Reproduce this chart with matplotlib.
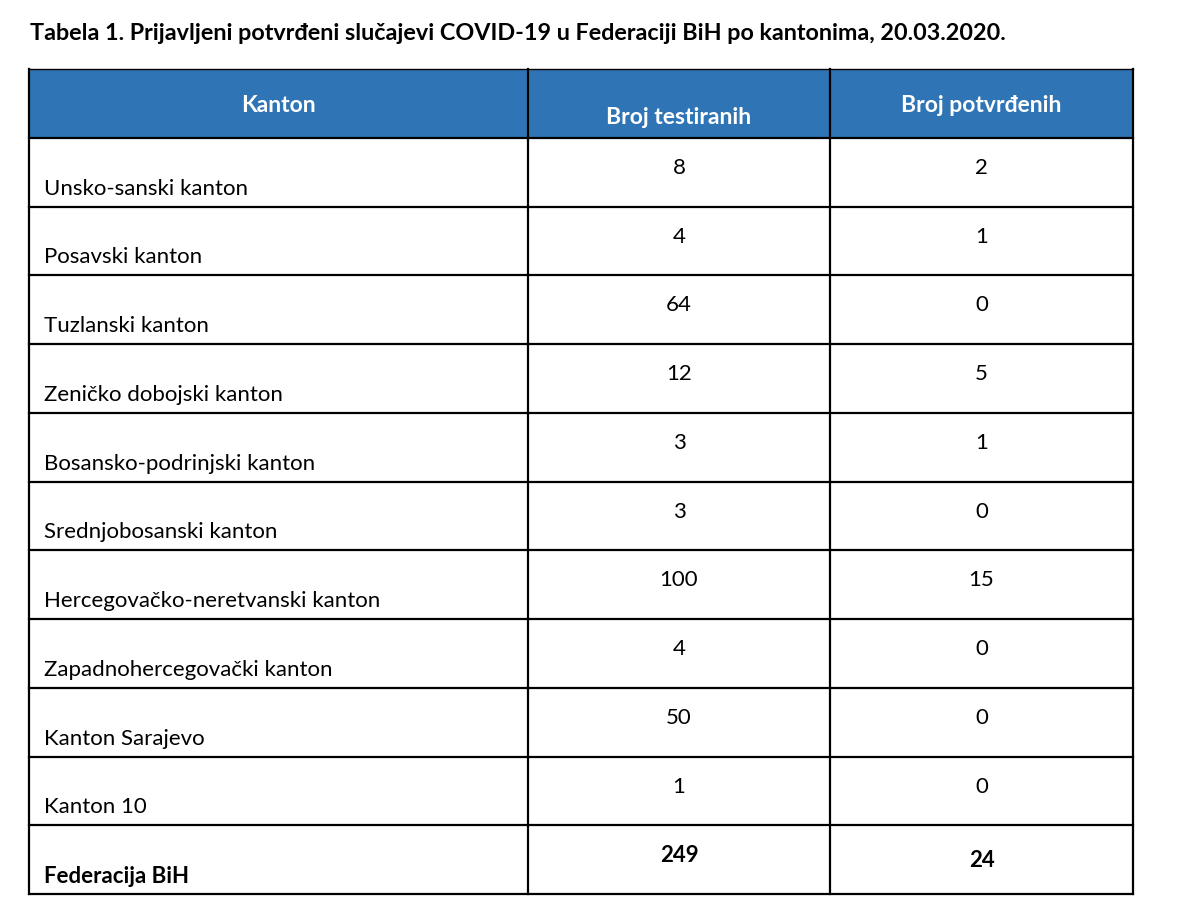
import matplotlib
matplotlib.use("Agg")
import matplotlib.pyplot as plt
from matplotlib.patches import Rectangle

plt.rcParams["font.family"] = ["Lato", "DejaVu Sans"]

title = "Tabela 1. Prijavljeni potvrđeni slučajevi COVID-19 u Federaciji BiH po kantonima, 20.03.2020."
headers = ["Kanton", "Broj testiranih", "Broj potvrđenih"]
kantoni = ["Unsko-sanski kanton", "Posavski kanton", "Tuzlanski kanton",
           "Zeničko dobojski kanton", "Bosansko-podrinjski kanton",
           "Srednjobosanski kanton", "Hercegovačko-neretvanski kanton",
           "Zapadnohercegovački kanton", "Kanton Sarajevo", "Kanton 10"]
testirani = [8, 4, 64, 12, 3, 3, 100, 4, 50, 1]
potvrdjeni = [2, 1, 0, 5, 1, 0, 15, 0, 0, 0]
ukupno_label = "Federacija BiH"
ukupno_test = 249
ukupno_potv = 24

HEAD_BLUE = "#2F75B5"

fig = plt.figure(figsize=(11.8, 9.08), dpi=100)
ax = fig.add_axes([0, 0, 1, 1])
ax.set_xlim(0, 1180)
ax.set_ylim(908, 0)
ax.axis("off")

# table geometry (pixels)
x0, x1, x2, x3 = 29, 528, 830, 1133
head_top, head_bot, bottom = 69, 138, 894
n_rows = len(kantoni) + 1
rh = (bottom - head_bot) / n_rows

ax.text(30, 33, title, fontsize=16.8, fontweight="bold", va="center", ha="left")

ax.add_patch(Rectangle((x0, head_top), x3 - x0, head_bot - head_top,
                       facecolor=HEAD_BLUE, edgecolor="none"))
hs = 16.5
ax.text((x0 + x1) / 2, 105, headers[0], color="white", fontsize=hs,
        fontweight="bold", ha="center", va="center")
ax.text((x1 + x2) / 2, 117, headers[1], color="white", fontsize=hs,
        fontweight="bold", ha="center", va="center")
ax.text((x2 + x3) / 2, 105, headers[2], color="white", fontsize=hs,
        fontweight="bold", ha="center", va="center")

names = kantoni + [ukupno_label]
col2 = [str(v) for v in testirani] + [str(ukupno_test)]
col3 = [str(v) for v in potvrdjeni] + [str(ukupno_potv)]
fs = 16
for i, (nm, a, b) in enumerate(zip(names, col2, col3)):
    top = head_bot + i * rh
    bold = "bold" if i == n_rows - 1 else "normal"
    ax.text(44, top + rh - 18, nm, fontsize=fs, fontweight=bold,
            ha="left", va="center")
    ax.text((x1 + x2) / 2, top + 30, a, fontsize=fs, fontweight=bold,
            ha="center", va="center")
    ax.text((x2 + x3) / 2, top + (35 if i == n_rows - 1 else 30), b,
            fontsize=fs, fontweight=bold, ha="center", va="center")

# grid lines
lw = 1.6
for i in range(n_rows + 1):
    y = head_bot + i * rh
    ax.plot([x0, x3], [y, y], color="black", lw=lw, solid_capstyle="projecting")
ax.plot([x0, x3], [head_top, head_top], color="black", lw=1.0)
for x in (x0, x1, x2, x3):
    ax.plot([x, x], [head_top, bottom], color="black", lw=lw)

fig.savefig("out.png", dpi=100, facecolor="white")
